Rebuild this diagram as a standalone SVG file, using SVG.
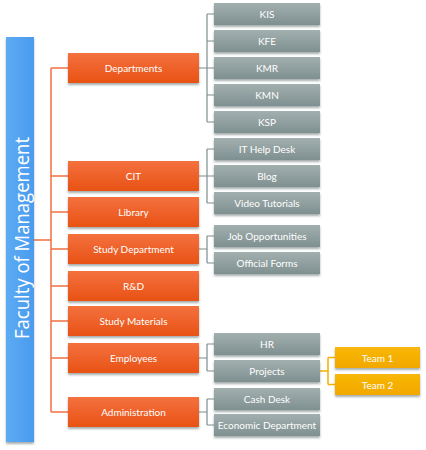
<svg xmlns="http://www.w3.org/2000/svg" width="426" height="450" viewBox="0 0 426 450">
<defs>
<linearGradient id="gO" x1="0" y1="0" x2="0" y2="1"><stop offset="0" stop-color="#F4713F"/><stop offset="1" stop-color="#E85214"/></linearGradient>
<linearGradient id="gG" x1="0" y1="0" x2="0" y2="1"><stop offset="0" stop-color="#A2AFAF"/><stop offset="1" stop-color="#7F9090"/></linearGradient>
<linearGradient id="gY" x1="0" y1="0" x2="0" y2="1"><stop offset="0" stop-color="#F8B708"/><stop offset="1" stop-color="#F2A800"/></linearGradient>
<linearGradient id="gB" x1="0" y1="0" x2="1" y2="0"><stop offset="0" stop-color="#5CABF3"/><stop offset="1" stop-color="#4A9BEE"/></linearGradient>
<filter id="sh" x="-10%" y="-20%" width="120%" height="160%"><feDropShadow dx="0" dy="2" stdDeviation="1.2" flood-color="#3a4a4a" flood-opacity="0.45"/></filter>
</defs>
<style>
.o{fill:url(#gO);filter:url(#sh)}
.g{fill:url(#gG);filter:url(#sh)}
.y{fill:url(#gY);filter:url(#sh)}
text{font-family:Lato,"Open Sans",sans-serif;font-size:10px;fill:#ffffff;text-anchor:middle;dominant-baseline:central}
.lo{stroke:#F07040;stroke-width:1.5;fill:none}
.lg{stroke:#7D8E8E;stroke-width:1.2;fill:none}
.ly{stroke:#F5B000;stroke-width:1.5;fill:none}
</style>
<g id="connectors">
<path class="lo" d="M34 240H51M51 68V412M51 68H68M51 176H68M51 212H68M51 249H68M51 286H68M51 321H68M51 358H68M51 412H68"/>
<path class="lg" d="M199 68H207M207 14V122M207 14H214M207 41H214M207 68H214M207 95H214M207 122H214"/>
<path class="lg" d="M199 176H207M207 149V203M207 149H214M207 176H214M207 203H214"/>
<path class="lg" d="M199 249H207M207 236V263M207 236H214M207 263H214"/>
<path class="lg" d="M199 358H207M207 344V371M207 344H214M207 371H214"/>
<path class="lg" d="M199 412H207M207 399V425M207 399H214M207 425H214"/>
<path class="ly" d="M320 371H328M328 357.5V384.5M328 357.5H335M328 384.5H335"/>
</g>
<g id="faculty"><rect x="6" y="37" width="28" height="405" fill="url(#gB)" filter="url(#sh)"/><text transform="translate(21 238) rotate(-90)" textLength="202" lengthAdjust="spacingAndGlyphs" style="font-family:'Open Sans',sans-serif;font-size:20px;font-weight:400">Faculty of Management</text></g>
<g id="departments"><rect class="o" x="68" y="53" width="131" height="30"/><text x="133.5" y="68">Departments</text></g>
<g id="cit"><rect class="o" x="68" y="161" width="131" height="30"/><text x="133.5" y="176">CIT</text></g>
<g id="library"><rect class="o" x="68" y="197" width="131" height="30"/><text x="133.5" y="212">Library</text></g>
<g id="study-department"><rect class="o" x="68" y="234" width="131" height="30"/><text x="133.5" y="249">Study Department</text></g>
<g id="rd"><rect class="o" x="68" y="271" width="131" height="30"/><text x="133.5" y="286">R&amp;D</text></g>
<g id="study-materials"><rect class="o" x="68" y="306" width="131" height="30"/><text x="133.5" y="321">Study Materials</text></g>
<g id="employees"><rect class="o" x="68" y="343" width="131" height="30"/><text x="133.5" y="358">Employees</text></g>
<g id="administration"><rect class="o" x="68" y="397" width="131" height="30"/><text x="133.5" y="412">Administration</text></g>
<g id="kis"><rect class="g" x="214" y="3" width="106" height="22"/><text x="267" y="14">KIS</text></g>
<g id="kfe"><rect class="g" x="214" y="30" width="106" height="22"/><text x="267" y="41">KFE</text></g>
<g id="kmr"><rect class="g" x="214" y="57" width="106" height="22"/><text x="267" y="68">KMR</text></g>
<g id="kmn"><rect class="g" x="214" y="84" width="106" height="22"/><text x="267" y="95">KMN</text></g>
<g id="ksp"><rect class="g" x="214" y="111" width="106" height="22"/><text x="267" y="122">KSP</text></g>
<g id="it-help-desk"><rect class="g" x="214" y="138" width="106" height="22"/><text x="267" y="149">IT Help Desk</text></g>
<g id="blog"><rect class="g" x="214" y="165" width="106" height="22"/><text x="267" y="176">Blog</text></g>
<g id="video-tutorials"><rect class="g" x="214" y="192" width="106" height="22"/><text x="267" y="203">Video Tutorials</text></g>
<g id="job-opportunities"><rect class="g" x="214" y="225" width="106" height="22"/><text x="267" y="236">Job Opportunities</text></g>
<g id="official-forms"><rect class="g" x="214" y="252" width="106" height="22"/><text x="267" y="263">Official Forms</text></g>
<g id="hr"><rect class="g" x="214" y="333" width="106" height="22"/><text x="267" y="344">HR</text></g>
<g id="projects"><rect class="g" x="214" y="360" width="106" height="22"/><text x="267" y="371">Projects</text></g>
<g id="cash-desk"><rect class="g" x="214" y="388" width="106" height="22"/><text x="267" y="399">Cash Desk</text></g>
<g id="economic-department"><rect class="g" x="214" y="414" width="106" height="22"/><text x="267" y="425">Economic Department</text></g>
<g id="team1"><rect class="y" x="335" y="347" width="85" height="21"/><text x="377.5" y="357.5">Team 1</text></g>
<g id="team2"><rect class="y" x="335" y="374" width="85" height="21"/><text x="377.5" y="384.5">Team 2</text></g>
</svg>
